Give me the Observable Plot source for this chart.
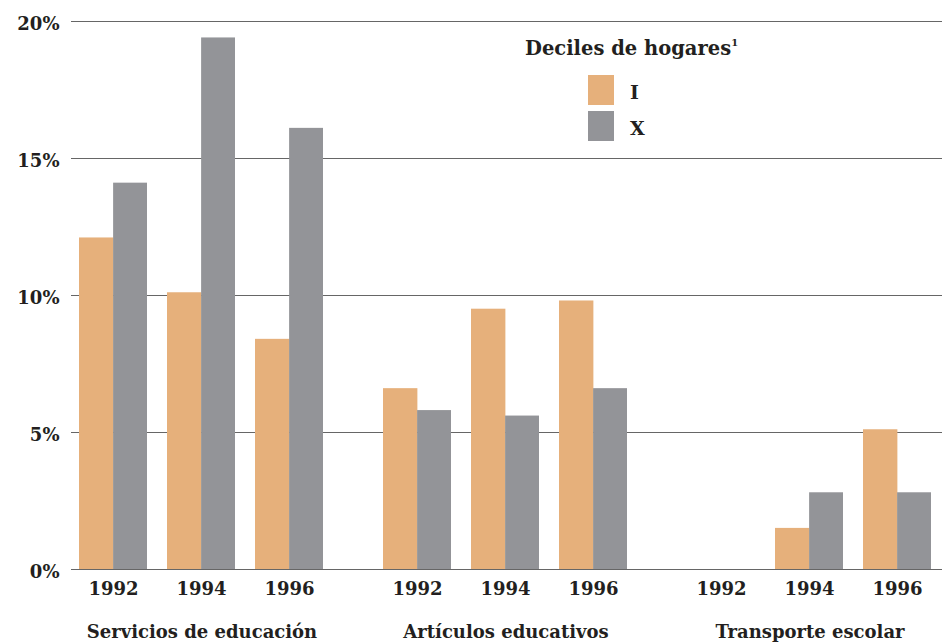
<!DOCTYPE html>
<html><head><meta charset="utf-8">
<script src="https://cdn.jsdelivr.net/npm/d3@7"></script>
<script src="https://cdn.jsdelivr.net/npm/@observablehq/plot@0.6"></script>
<style>
body{margin:0;background:#fff;}
#wrap{position:relative;width:942px;height:642px;font-family:"DejaVu Serif",serif;color:#231f20;overflow:hidden;}
#legend{position:absolute;left:0;top:0;width:942px;height:0;}
.lg-title{position:absolute;left:525px;top:39px;font-size:19.5px;font-weight:bold;white-space:nowrap;line-height:1;}
.lg-title sup{font-size:10px;vertical-align:top;position:relative;top:-1px;}
.sw{position:absolute;width:26px;height:30px;}
.lab{position:absolute;font-size:19px;font-weight:bold;line-height:1;}
</style></head><body><div id="wrap"><div id="legend"></div></div>
<script>
const categories = ["Servicios de educación", "Artículos educativos", "Transporte escolar"];
const years = ["1992", "1994", "1996"];
const deciles = ["I", "X"];
// values per category x year (in %)
const decilI = [12.1, 10.1, 8.4,  6.6, 9.5, 9.8,  0, 1.5, 5.1];
const decilX = [14.1, 19.4, 16.1, 5.8, 5.6, 6.6,  0, 2.8, 2.8];
const yTicks = [0, 5, 10, 15, 20];
const colors = ["#E6B07B", "#939498"];
const legendTitle = "Deciles de hogares";

function rows(vals, dec) {
  const out = [];
  categories.forEach((c, ci) => years.forEach((y, yi) => {
    out.push({cat: c, year: y, decile: dec, value: vals[ci * years.length + yi]});
  }));
  return out;
}
const rowsI = rows(decilI, "I");
const rowsX = rows(decilX, "X");

const W = 942, H = 642, mL = 70, mR = 0, mT = 21, mB = 73;
const fxPadInner = 0.14, xPadInner = 0.225, xPadOuter = 0.08;
const fxStep = (W - mL - mR) / (categories.length - fxPadInner);
const facetBW = fxStep * (1 - fxPadInner);
const facetGap = fxStep * fxPadInner;
const xStep = facetBW / (years.length - xPadInner + 2 * xPadOuter);
const half = xStep * (1 - xPadInner) / 2;

const chart = Plot.plot({
  width: W, height: H,
  marginLeft: mL, marginRight: mR, marginTop: mT, marginBottom: mB,
  style: {fontFamily: "DejaVu Serif, serif", fontSize: "18px", fontWeight: "bold", color: "#231f20", background: "white"},
  fx: {domain: categories, paddingInner: fxPadInner, paddingOuter: 0, label: null, axis: null},
  x: {domain: years, paddingInner: xPadInner, paddingOuter: xPadOuter, label: null, axis: null},
  y: {domain: [0, 20], label: null, axis: null},
  marks: [
    Plot.ruleY(yTicks, {y: d => d, stroke: "#666", strokeWidth: 1, insetRight: -(facetGap + 1)}),
    Plot.barY(rowsI, {fx: "cat", x: "year", y: "value", fill: colors[0], insetLeft: 0, insetRight: half - 1, shapeRendering: "auto"}),
    Plot.barY(rowsX, {fx: "cat", x: "year", y: "value", fill: colors[1], insetLeft: half - 0.5, insetRight: 0, shapeRendering: "auto"}),
    Plot.axisY(yTicks, {tickSize: 0, tickPadding: 12, tickFormat: d => d + "%", label: null, fontSize: 18, dy: 3}),
    Plot.axisX({tickSize: 0, tickPadding: 13, label: null, fontSize: 18}),
    Plot.axisFx({anchor: "bottom", tickSize: 0, tickPadding: 56, label: null, fontSize: 18})
  ]
});
const wrap = document.getElementById("wrap");
wrap.insertBefore(chart, wrap.firstChild);

const lg = document.getElementById("legend");
lg.innerHTML = `<div class="lg-title">${legendTitle}<sup>1</sup></div>` +
  deciles.map((d, i) =>
    `<div class="sw" style="left:588px;top:${75 + i * 36}px;background:${colors[i]}"></div>` +
    `<div class="lab" style="left:630px;top:${83 + i * 36}px">${d}</div>`).join("");
</script></body></html>
